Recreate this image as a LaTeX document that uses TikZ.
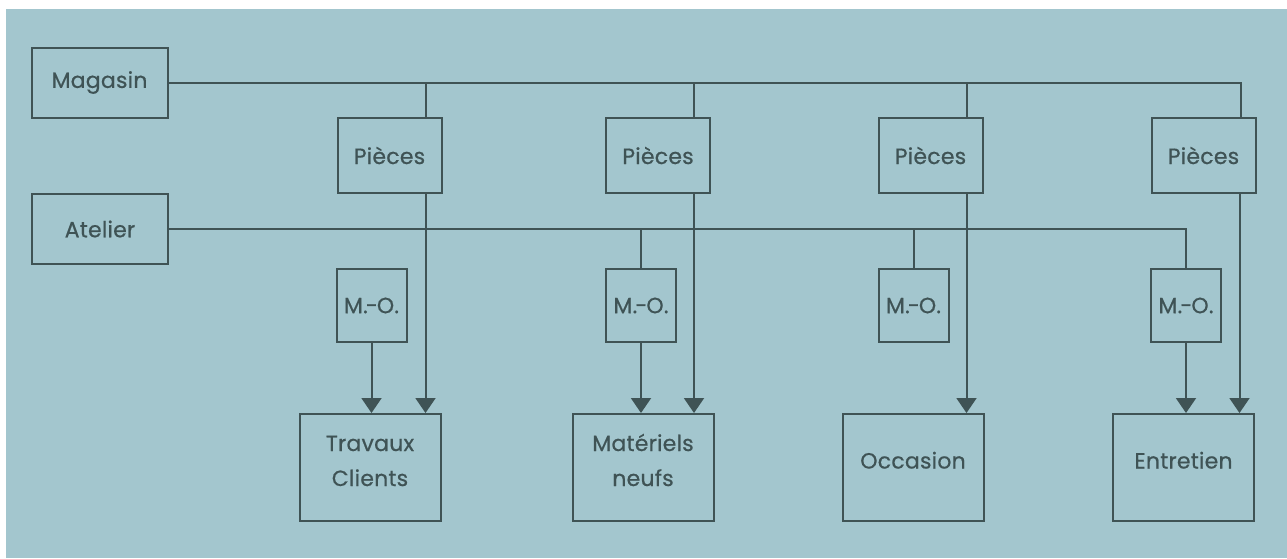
\documentclass[tikz,border=0pt]{standalone}
\usepackage{fontspec}
\setmainfont[LetterSpace=1,FakeBold=0.6]{Poppins}
\usetikzlibrary{positioning}
\usetikzlibrary{arrows.meta}
\definecolor{paper}{HTML}{A3C6CE}
\definecolor{ink}{HTML}{3F5355}
\tikzstyle{sourcebox}=[rectangle,draw=ink,line width=1pt,text=ink,minimum width=68pt,minimum height=35pt,inner sep=0pt]
\tikzstyle{partbox}=[rectangle,draw=ink,line width=1pt,text=ink,minimum width=52pt,minimum height=37.5pt,inner sep=0pt]
\tikzstyle{labourbox}=[rectangle,draw=ink,line width=1pt,text=ink,minimum width=35pt,minimum height=36.5pt,inner sep=0pt]
\tikzstyle{sinkbox}=[rectangle,draw=ink,line width=1pt,text=ink,minimum width=70.5pt,minimum height=53.5pt,inner sep=0pt]
\tikzstyle{feed} = [draw=ink,line width=1pt]
\tikzstyle{edge} = [draw=ink,line width=1pt,-{Triangle[width=10pt,length=7.5pt]}]

\begin{document}
\begin{tikzpicture}[x=0.5pt,y=-0.5pt,font=\fontsize{11}{17.5}\selectfont]
\useasboundingbox (0,0) rectangle (1287,558);
\fill[paper] (6,9) rectangle (1287,558);

    % The two sources
    \node[sourcebox] (Mag) at (99.5,82.5) {Magasin};
    \node[sourcebox] (Atel) at (100,229) {Atelier};

    % Then the parts, the labour and the four accounts
    \foreach \x/\name in {389.5/P1, 658/P2, 930.5/P3, 1203.5/P4}
        \node[partbox] (\name) at (\x,155.5) {Pièces};
    \foreach \x/\name in {371.5/MO1, 641/MO2, 913.5/MO3, 1186/MO4}
        \node[labourbox] (\name) at (\x,305.5) {M.\kern-1pt-\kern-.5pt O.};
    \foreach \x/\name/\label in {370/T1/{Travaux\\Clients}, 643/T2/{Matériels\\neufs}, 913/T3/{Occasion}, 1183.5/T4/{Entretien}}
        \node[sinkbox] (\name) at (\x,467.5) {\raisebox{3pt}[\height][\depth]{\begin{tabular}{@{}c@{}}\label\end{tabular}}};

    % Magasin feeds the parts
    \path[feed] (Mag.east) -| ([xshift=18.5pt]P4.north);
    \foreach \name in {P1, P2, P3}
        \path[feed] ([xshift=18pt]\name.north) |- (Mag.east);

    % Atelier feeds the labour
    \path[feed] (Atel.east) -| (MO4.north);
    \foreach \name in {MO2, MO3}
        \path[feed] (\name.north) |- (Atel.east);

    % Parts and labour go down to the accounts
    \foreach \source/ \dest in {P1/T1, P2/T2, P3/T3, P4/T4}
    {
        \coordinate (\source out) at ([xshift=18pt]\source.south);
        \path[edge] (\source out) -- (\source out |- \dest.north);
    }
    \foreach \source/ \dest in {MO1/T1, MO2/T2, MO4/T4}
        \path[edge] (\source.south) -- (\source.south |- \dest.north);

\end{tikzpicture}
\end{document}
